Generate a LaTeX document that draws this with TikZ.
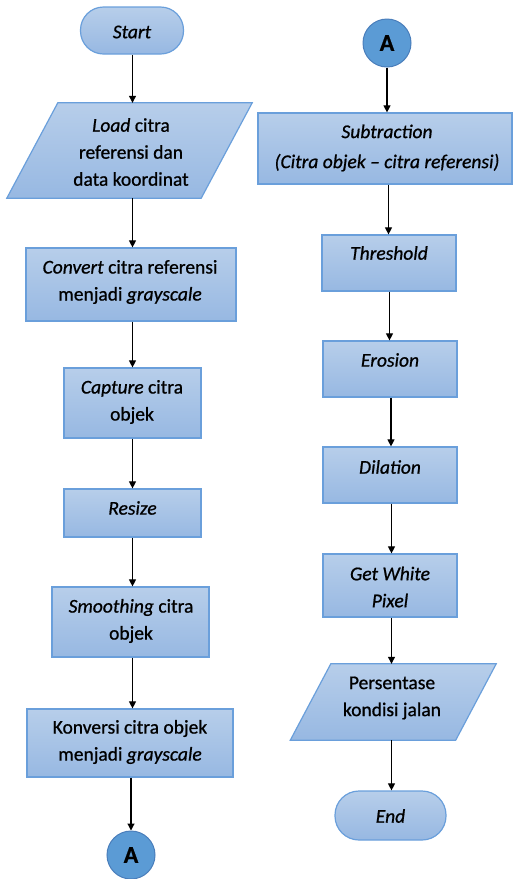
\documentclass[tikz,border=0pt]{standalone}
\usepackage{fontspec}
\setmainfont{Carlito}[FakeBold=0.8]
\usetikzlibrary{arrows.meta}
\definecolor{gtop}{HTML}{B7CEEA}
\definecolor{gbot}{HTML}{97B8E2}
\definecolor{bord}{HTML}{6A9FDB}
\definecolor{circfill}{HTML}{5B9BD5}
\definecolor{circbord}{HTML}{4A7EBB}
\tikzset{
  procbox/.style={draw=bord, line width=1.2pt, top color=gtop, bottom color=gbot, rectangle, inner sep=0pt},
  paraline/.style={draw=bord, line width=1.2pt, top color=gtop, bottom color=gbot},
  ghost/.style={rectangle, inner sep=0pt},
  lbl/.style={font=\fontsize{19.5}{27}\selectfont, align=center, inner sep=0pt, text=black},
  conn/.style={circle, draw=circbord, line width=1pt, fill=circfill, minimum size=48pt, inner sep=0pt, font=\fontsize{24}{24}\selectfont\bfseries},
  flow/.style={-{Triangle[length=7pt,width=7pt]}, line width=1.1pt, black},
}
\begin{document}
\begin{tikzpicture}[x=1pt,y=1pt]
\useasboundingbox (0,0) rectangle (515,-879);
% ---------- left column ----------
\node[procbox, rounded corners=23pt, minimum width=103pt, minimum height=47pt] (start) at (132,-30.5) {};
\node[lbl] (t-start) at (132,-32) {\textit{Start}};

\node[ghost, minimum width=194pt, minimum height=95pt] (ld) at (129.5,-150.5) {};
\path[paraline] ([xshift=25.5pt]ld.north west) -- ([xshift=25.5pt]ld.north east) -- ([xshift=-25.5pt]ld.south east) -- ([xshift=-25.5pt]ld.south west) -- cycle;
\node[lbl] (t-ld) at (131,-152) {\textit{Load} citra\\referensi dan\\data koordinat};

\node[procbox, minimum width=210pt, minimum height=73pt] (cv) at (131,-284.5) {};
\node[lbl] (t-cv) at (130,-282) {\textit{Convert} citra referensi\\menjadi \textit{grayscale}};

\node[procbox, minimum width=137pt, minimum height=70pt] (cap) at (132.5,-403) {};
\node[lbl] (t-cap) at (132,-402) {\textit{Capture} citra\\objek};

\node[procbox, minimum width=137pt, minimum height=48pt] (rs) at (132.5,-513) {};
\node[lbl] (t-rs) at (132.5,-508) {\textit{Resize}};

\node[procbox, minimum width=157pt, minimum height=70pt] (sm) at (130.5,-622) {};
\node[lbl] (t-sm) at (131,-621) {\textit{Smoothing} citra\\objek};

\node[procbox, minimum width=206pt, minimum height=68pt] (kv) at (130,-743) {};
\node[lbl] (t-kv) at (130,-742) {Konversi citra objek\\menjadi \textit{grayscale}};

\node[conn] (a1) at (131,-855) {A};

% ---------- right column ----------
\node[conn] (a2) at (387,-43) {A};

\node[procbox, minimum width=254pt, minimum height=71pt] (sub) at (385,-148.5) {};
\node[lbl, font=\fontsize{19.5}{30}\selectfont] (t-sub) at (387,-148) {\textit{Subtraction}\\\textit{(Citra objek – citra referensi)}};

\node[procbox, minimum width=134pt, minimum height=56pt] (th) at (389,-263) {};
\node[lbl] (t-th) at (389,-253) {\textit{Threshold}};

\node[procbox, minimum width=134pt, minimum height=56pt] (er) at (390,-369) {};
\node[lbl] (t-er) at (390,-360) {\textit{Erosion}};

\node[procbox, minimum width=134pt, minimum height=56pt] (dl) at (390,-475) {};
\node[lbl] (t-dl) at (390,-467) {\textit{Dilation}};

\node[procbox, minimum width=134pt, minimum height=63pt] (gw) at (390,-585.5) {};
\node[lbl] (t-gw) at (390,-587) {\textit{Get White}\\\textit{Pixel}};

\node[ghost, minimum width=165pt, minimum height=76pt] (ps) at (393.25,-702) {};
\path[paraline] ([xshift=20.25pt]ps.north west) -- ([xshift=20.25pt]ps.north east) -- ([xshift=-20.25pt]ps.south east) -- ([xshift=-20.25pt]ps.south west) -- cycle;
\node[lbl] (t-ps) at (392,-698) {Persentase\\kondisi jalan};

\node[procbox, rounded corners=24pt, minimum width=111pt, minimum height=49pt] (end) at (390.5,-815.5) {};
\node[lbl] (t-end) at (390.5,-816) {\textit{End}};

% ---------- connectors ----------
\draw[flow] (132.5,0 |- start.south) coordinate (s0) -- (s0 |- ld.north);
\draw[flow] (132.5,0 |- ld.south) coordinate (s1) -- (s1 |- cv.north);
\draw[flow] (132.5,0 |- cv.south) coordinate (s2) -- (s2 |- cap.north);
\draw[flow] (132.5,0 |- cap.south) coordinate (s3) -- (s3 |- rs.north);
\draw[flow] (132.5,0 |- rs.south) coordinate (s4) -- (s4 |- sm.north);
\draw[flow] (132.5,0 |- sm.south) coordinate (s5) -- (s5 |- kv.north);
\draw[flow] (131,0 |- kv.south) coordinate (s6) -- (s6 |- a1.north);

\draw[flow] (a2.south) -- (a2.south |- sub.north);
\draw[flow] (388.5,0 |- sub.south) coordinate (r1) -- (r1 |- th.north);
\draw[flow] (389.5,0 |- th.south) coordinate (r2) -- (r2 |- er.north);
\draw[flow] (391,0 |- er.south) coordinate (r3) -- (r3 |- dl.north);
\draw[flow] (391.5,0 |- dl.south) coordinate (r4) -- (r4 |- gw.north);
\draw[flow] (391.5,0 |- gw.south) coordinate (r5) -- (r5 |- ps.north);
\draw[flow] (391.5,0 |- ps.south) coordinate (r6) -- (r6 |- end.north);
\end{tikzpicture}
\end{document}
